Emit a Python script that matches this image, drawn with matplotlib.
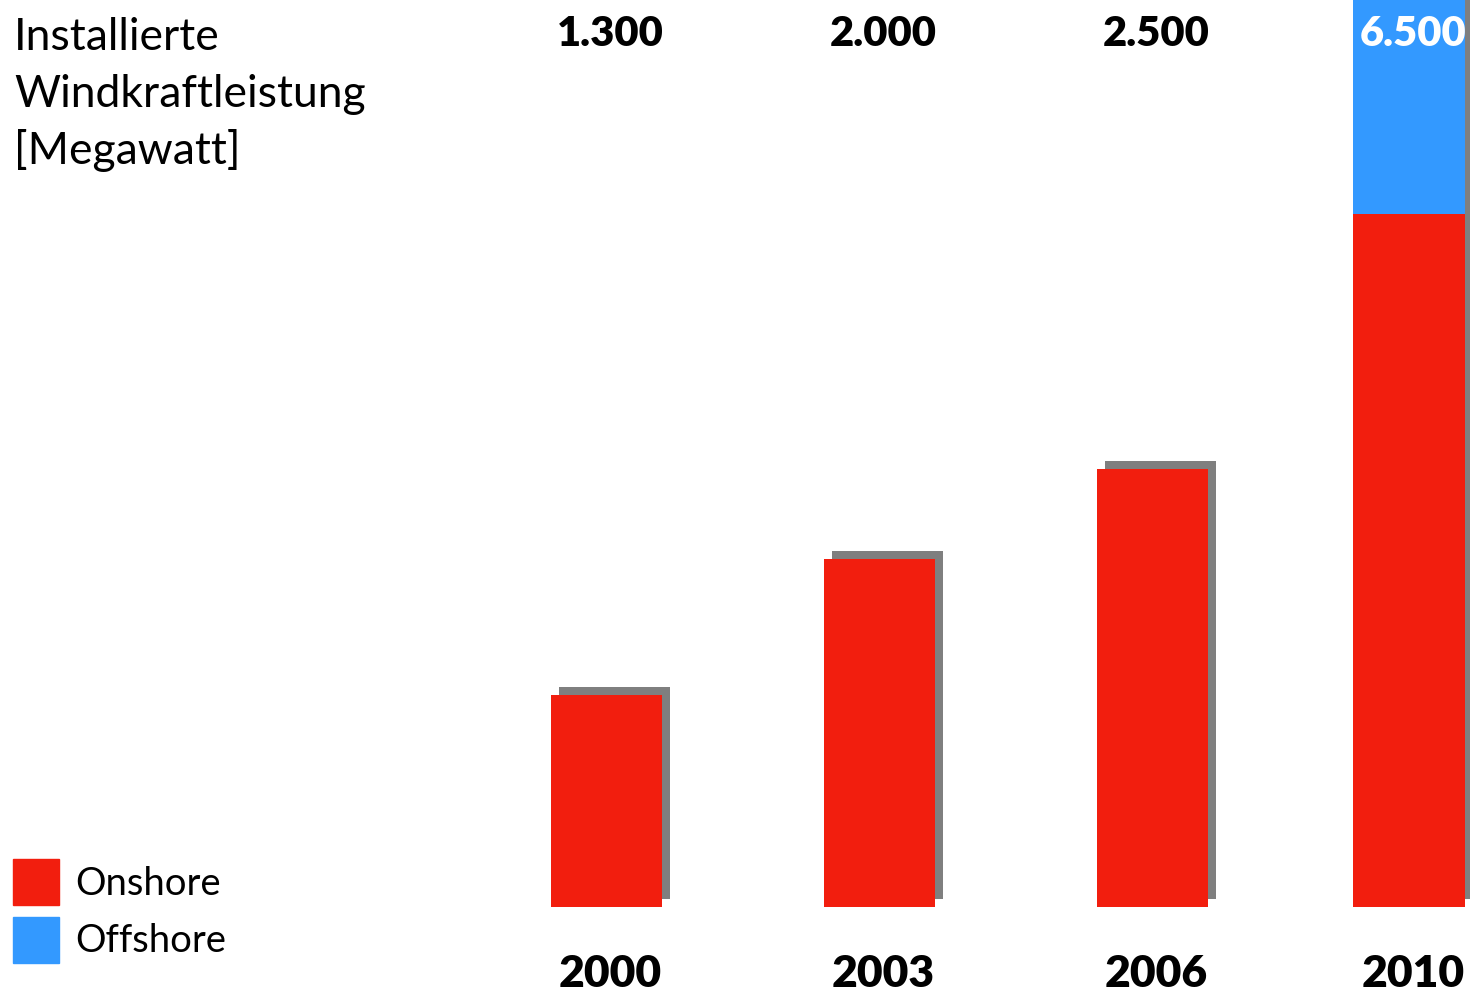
import matplotlib
matplotlib.use("Agg")
import matplotlib.pyplot as plt
import matplotlib.patheffects as pe

# bar heights (MW), labels as printed
years = ["2000", "2003", "2006", "2010"]
totals = ["1.300", "2.000", "2.500", "6.500"]
onshore = [1215, 1995, 2510, 3970]
offshore = [0, 0, 0, 2530]
slots = [0, 1, 2, 2.94]

title_lines = ["Installierte", "Windkraftleistung", "[Megawatt]"]
legend_labels = ["Onshore", "Offshore"]

red = "#F21E0E"
blue = "#3399FF"
gray = "#7F7F7F"

plt.rcParams["font.family"] = ["Lato", "DejaVu Sans"]

W, H = 1470, 995
fig = plt.figure(figsize=(W / 100, H / 100), dpi=100)
ax = fig.add_axes([0, 87 / H, 1, 908 / H])
ax.set_xlim(-2.2216, 3.163)
ax.set_ylim(0, 5203)
ax.axis("off")

# gray drop shadow, 8 px right and up
px = 72 / 100
shadow = [pe.SimplePatchShadow(offset=(8 * px, 8 * px), shadow_rgbFace=gray,
                               alpha=1.0), pe.Normal()]
w = 0.41
b1 = ax.bar(slots, onshore, width=w, color=red, zorder=2)
b2 = ax.bar(slots, offshore, width=w, bottom=onshore, color=blue, zorder=2)
for r in list(b1) + list(b2):
    if r.get_height() > 0:
        r.set_path_effects(shadow)


def fx(p):
    return p / W


def fy(p):
    return 1 - p / H


# labels centred on bar + shadow
for i, s in enumerate(slots):
    xc = fx(606.5 + 273 * s + 4)
    c = "white" if offshore[i] > 0 else "black"
    fig.text(xc, fy(46), totals[i], ha="center", va="baseline",
             fontsize=30, fontweight="heavy", color=c)
    fig.text(xc, fy(994), years[i], ha="center", va="bottom",
             fontsize=32, fontweight="heavy")

for k, line in enumerate(title_lines):
    fig.text(fx(14), fy(50 + 57 * k), line, ha="left", va="baseline",
             fontsize=32)

# legend
for j, (lab, col) in enumerate(zip(legend_labels, [red, blue])):
    y0 = 860 + 58 * j
    fig.patches.append(plt.Rectangle((fx(13), fy(y0 + 46)), 46 / W, 46 / H,
                                     color=col, transform=fig.transFigure,
                                     figure=fig))
    fig.text(fx(75), fy(895 + 57 * j), lab, ha="left", va="baseline",
             fontsize=27.5)

fig.savefig("out.png", dpi=100)
